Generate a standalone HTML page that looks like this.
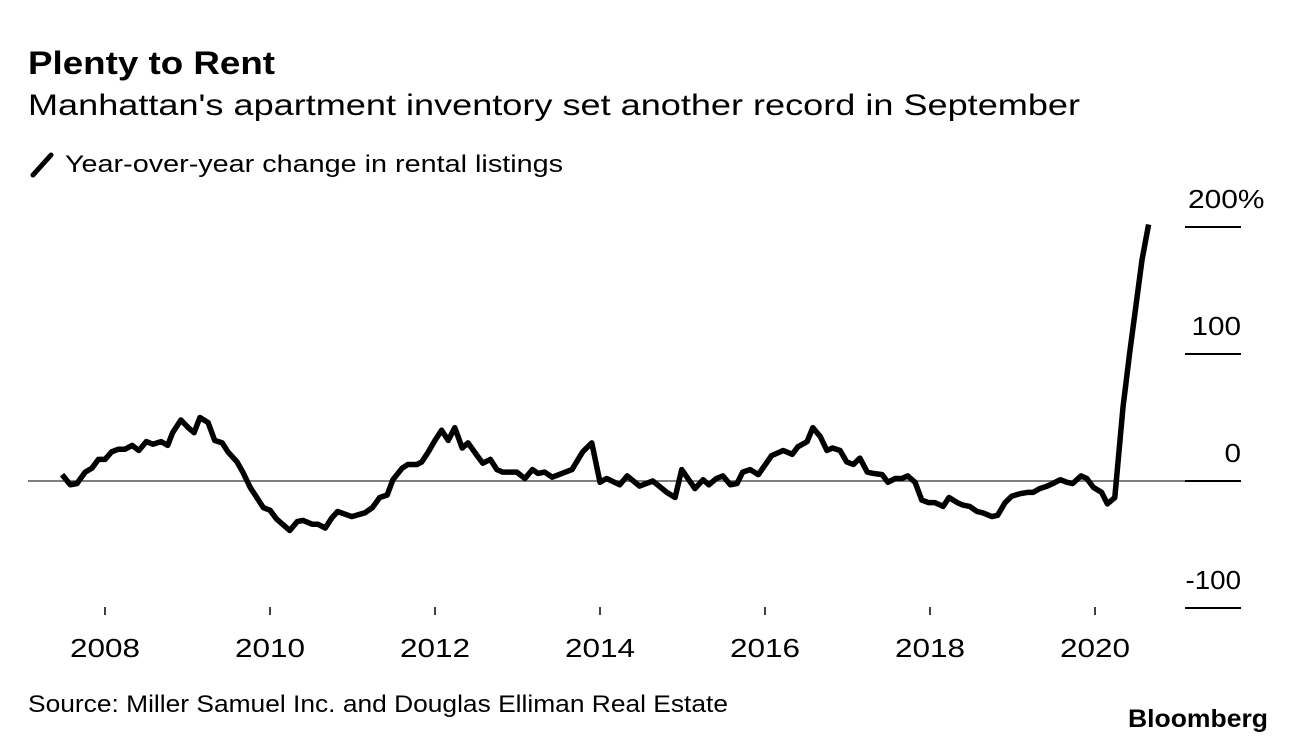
<!DOCTYPE html>
<html><head><meta charset="utf-8"><style>
body{margin:0;background:#fff;font-family:"Liberation Sans",sans-serif;}
svg{display:block}
</style></head><body>
<svg width="1296" height="744" viewBox="0 0 1296 744" id="chart">
<text x="28" y="74" font-size="32" font-weight="bold" fill="#000" textLength="247" lengthAdjust="spacingAndGlyphs">Plenty to Rent</text>
<text x="28" y="115" font-size="30" fill="#000" textLength="1052" lengthAdjust="spacingAndGlyphs">Manhattan's apartment inventory set another record in September</text>
<g>
<line x1="33" y1="175" x2="51" y2="155" stroke="#000" stroke-width="5" stroke-linecap="round"/>
<text x="65" y="172" font-size="24" fill="#000" textLength="498" lengthAdjust="spacingAndGlyphs">Year-over-year change in rental listings</text>
</g>
<line x1="28" y1="481" x2="1241" y2="481" stroke="#555" stroke-width="1.5"/>
<g id="yaxis"></g>
<g id="xaxis"></g>
<path id="line" fill="none" stroke="#000" stroke-width="5.5" stroke-linejoin="round"/>
<text x="28" y="712" font-size="24" fill="#000" textLength="700" lengthAdjust="spacingAndGlyphs">Source: Miller Samuel Inc. and Douglas Elliman Real Estate</text>
<text x="1128" y="727" font-size="25" font-weight="bold" fill="#000" textLength="140" lengthAdjust="spacingAndGlyphs">Bloomberg</text>
</svg>
<script>
const dates=[2007.48,2007.58,2007.66,2007.76,2007.84,2007.92,2008.00,2008.08,2008.16,2008.24,2008.33,2008.41,2008.50,2008.58,2008.68,2008.76,2008.82,2008.92,2009.01,2009.08,2009.15,2009.25,2009.33,2009.42,2009.49,2009.60,2009.67,2009.76,2009.84,2009.92,2010.00,2010.08,2010.24,2010.33,2010.40,2010.51,2010.58,2010.67,2010.75,2010.82,2010.99,2011.15,2011.24,2011.33,2011.42,2011.49,2011.60,2011.67,2011.78,2011.84,2011.92,2012.00,2012.08,2012.16,2012.24,2012.33,2012.40,2012.51,2012.58,2012.67,2012.75,2012.82,2012.99,2013.09,2013.18,2013.25,2013.33,2013.42,2013.66,2013.79,2013.90,2014.00,2014.08,2014.24,2014.33,2014.48,2014.64,2014.81,2014.91,2014.99,2015.15,2015.25,2015.32,2015.41,2015.49,2015.58,2015.66,2015.73,2015.82,2015.92,2016.08,2016.22,2016.33,2016.40,2016.51,2016.58,2016.67,2016.75,2016.82,2016.91,2016.99,2017.07,2017.15,2017.24,2017.31,2017.42,2017.49,2017.58,2017.66,2017.73,2017.82,2017.90,2017.98,2018.06,2018.16,2018.23,2018.33,2018.40,2018.48,2018.57,2018.64,2018.75,2018.82,2018.91,2018.99,2019.09,2019.18,2019.25,2019.33,2019.42,2019.49,2019.58,2019.66,2019.73,2019.83,2019.90,2019.98,2020.08,2020.15,2020.24,2020.34,2020.42,2020.51,2020.57,2020.65];
const values=[5,-3,-2,7,10,17,17,23,25,25,28,24,31,29,31,28,38,48,42,38,50,46,32,30,23,15,7,-5,-13,-21,-23,-30,-39,-32,-31,-34,-34,-37,-29,-24,-28,-25,-21,-13,-11,1,10,13,13,15,23,32,40,32,42,26,30,20,14,17,9,7,7,2,9,6,7,3,9,23,30,-1,2,-3,4,-4,0,-9,-13,9,-6,1,-3,2,4,-3,-2,7,9,5,20,24,21,27,31,42,35,24,26,24,15,13,18,7,6,5,-1,2,2,4,-1,-15,-17,-17,-20,-13,-17,-19,-20,-24,-25,-28,-27,-17,-12,-10,-9,-9,-6,-4,-2,1,-1,-2,4,2,-5,-9,-18,-13,58,101,145,174,202];
const yTicks=[200,100,0,-100];
const yTickLabels=["200%","100","0","-100"];
const xTicks=[2008,2010,2012,2014,2016,2018,2020];
const NS="http://www.w3.org/2000/svg";
function xs(d){return 105+(d-2008)*82.5;}
function ys(v){return 481-v*1.27;}
function labW(s){let w=0;for(const c of s){w+=c==='-'?6:(c==='%'?27:16.5);}return w;}
const ya=document.getElementById('yaxis');
yTicks.forEach((t,i)=>{
  const l=document.createElementNS(NS,'line');
  l.setAttribute('x1',1185);l.setAttribute('x2',1241);
  l.setAttribute('y1',ys(t));l.setAttribute('y2',ys(t));
  l.setAttribute('stroke','#000');l.setAttribute('stroke-width',2);
  
  
  ya.appendChild(l);
  const lab=yTickLabels[i];
  const pct=lab.endsWith('%');
  const tx=document.createElementNS(NS,'text');
  tx.setAttribute('x',pct?1188:1241);tx.setAttribute('y',ys(t)-19);
  tx.setAttribute('text-anchor',pct?'start':'end');tx.setAttribute('font-size','26');
  tx.setAttribute('textLength',labW(lab));
  tx.setAttribute('lengthAdjust','spacingAndGlyphs');
  tx.textContent=lab;
  
  
  ya.appendChild(tx);
});
const xa=document.getElementById('xaxis');
xTicks.forEach(t=>{
  const l=document.createElementNS(NS,'line');
  l.setAttribute('x1',xs(t));l.setAttribute('x2',xs(t));
  l.setAttribute('y1',607);l.setAttribute('y2',615);
  l.setAttribute('stroke','#000');l.setAttribute('stroke-width',1.5);
  
  
  xa.appendChild(l);
  const tx=document.createElementNS(NS,'text');
  tx.setAttribute('x',xs(t)-35);tx.setAttribute('y',657);
  tx.setAttribute('font-size','26');
  tx.setAttribute('textLength','70');
  tx.setAttribute('lengthAdjust','spacingAndGlyphs');
  tx.textContent=String(t);
  
  
  xa.appendChild(tx);
});
document.getElementById('line').setAttribute('d',dates.map((d,i)=>(i?'L':'M')+xs(d).toFixed(1)+','+ys(values[i]).toFixed(1)).join(''));
</script>
</body></html>
